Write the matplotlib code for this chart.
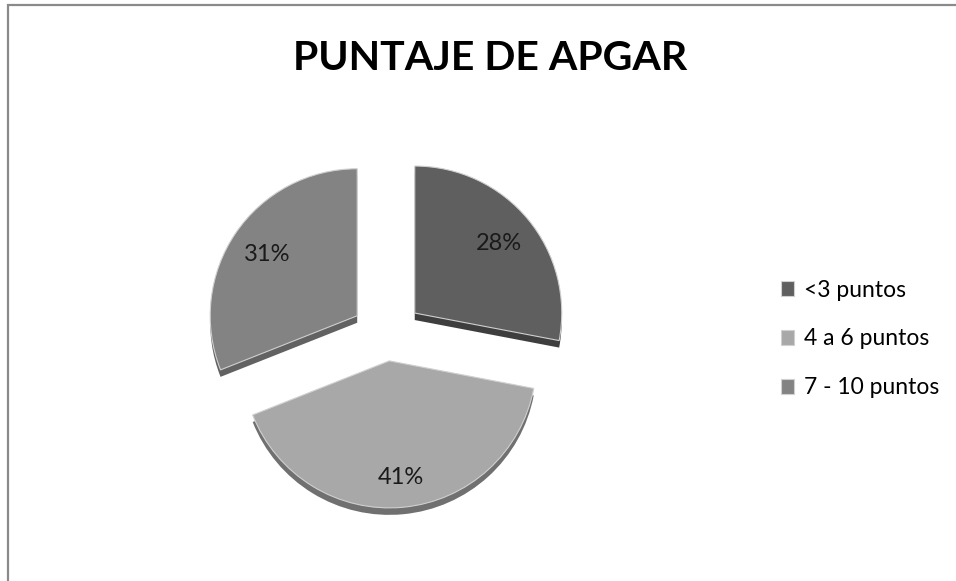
import matplotlib
matplotlib.use("Agg")
import matplotlib.pyplot as plt
from matplotlib.patches import Rectangle

# data
categories = ["<3 puntos", "4 a 6 puntos", "7 - 10 puntos"]
shares = [28, 41, 31]
top_colors = ["#5f5f5f", "#a8a8a8", "#838383"]
side_colors = ["#3e3e3e", "#707070", "#626262"]
explode = [0.245, 0.17, 0.245]
label_dist = [0.74, 0.80, 0.74]

plt.rcParams["font.family"] = ["Lato", "DejaVu Sans"]

W, H = 956, 581
fig = plt.figure(figsize=(W / 100, H / 100), dpi=100)

# pie axes: 1 data unit = 147 px, centre at (387, 336) px
R = 147.0
cx, cy = 387.0, 336.0
half_w, half_h = 300.0, 230.0
ax = fig.add_axes([(cx - half_w) / W, (H - cy - half_h) / H, 2 * half_w / W, 2 * half_h / H])

# thin "3D" side: same pie, darker, shifted down a few pixels
depth = 7 / R
ax.pie(shares, colors=side_colors, explode=explode, startangle=90, counterclock=False,
       center=(0, -depth), wedgeprops=dict(linewidth=0))
wedges, _, autotexts = ax.pie(
    shares, colors=top_colors, explode=explode, startangle=90, counterclock=False,
    autopct="%d%%", pctdistance=0.74,
    wedgeprops=dict(linewidth=0.8, edgecolor="#d0d0d0"),
    textprops=dict(fontsize=17, color="#1a1a1a"),
)
# per-slice label distance from the (exploded) wedge centre
for w, t, d in zip(wedges, autotexts, label_dist):
    (wx, wy), (tx, ty) = w.center, t.get_position()
    f = d / 0.74
    t.set_position((wx + (tx - wx) * f, wy + (ty - wy) * f))

ax.set_xlim(-half_w / R, half_w / R)
ax.set_ylim(-half_h / R, half_h / R)
ax.set_aspect("auto")
ax.axis("off")

fig.text(490 / W, 1 - 58 / H, "PUNTAJE DE APGAR", ha="center", va="center",
         fontsize=29.5, fontweight="bold", color="black")

fig.legend(wedges, categories, loc="center left", bbox_to_anchor=(760 / W, 1 - 339 / H),
           frameon=False, fontsize=16.5, handlelength=0.6, handleheight=0.6,
           handletextpad=0.4, labelspacing=1.22)

fig.patches.append(Rectangle((8 / W, -0.05), 1.1, 1 - 5 / H + 0.05, transform=fig.transFigure,
                             fill=False, edgecolor="#8a8a8a", linewidth=1.6, clip_on=False))

fig.savefig("out.png", dpi=100, facecolor="white")
